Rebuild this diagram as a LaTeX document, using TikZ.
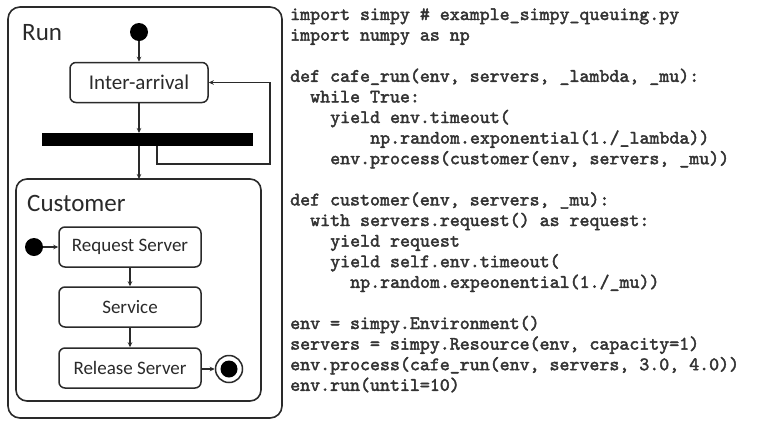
\documentclass[tikz,border=0pt]{standalone}
\usepackage{fontspec}
\setmainfont{Carlito}
\newfontfamily\codefont{lmmono10-regular.otf}[FakeBold=2.2]
\usetikzlibrary{arrows.meta}
\definecolor{ink}{HTML}{2A2A2A}
\definecolor{codeink}{HTML}{333333}
\tikzset{
  frame/.style={draw=ink, line width=1.6pt, rounded corners=12pt},
  statebox/.style={draw=ink, line width=1.5pt, rounded corners=6pt, fill=white,
    minimum width=138pt, minimum height=40pt, font=\fontsize{19}{22}\selectfont, text=ink, inner sep=0pt},
  title/.style={anchor=base west, font=\fontsize{25}{28}\selectfont, text=ink, inner sep=0pt},
  conn/.style={draw=ink, line width=1.3pt},
  arr/.style={conn, -{Stealth[length=5pt,width=4.5pt]}},
  startdot/.style={circle, fill=black, minimum size=18pt, inner sep=0pt},
  codeline/.style={anchor=base west, inner sep=0pt, text=codeink,
    font=\codefont\fontsize{19}{20}\selectfont},
}
\begin{document}
\begin{tikzpicture}[x=1pt, y=-1pt]
\useasboundingbox (0,0) rectangle (767,424);
\fill[white] (0,0) rectangle (767,424);
% outer Run frame
\draw[frame] (8,7) rectangle (282,418);
\node[title] (run) at (22,40) {Run};
\node[startdot] (s0) at (139,32) {};
\node[statebox, font=\fontsize{21}{24}\selectfont] (ia) at (139,82.5) {Inter-arrival};
\node[fill=black, minimum width=211pt, minimum height=13pt, inner sep=0pt] (bar) at (147.5,139.5) {};
\coordinate (barin) at (139,133);
\coordinate (barout) at (139,146);
\coordinate (loopstart) at (157,146);
\coordinate (loopR) at (270,164);
\draw[arr] (s0) -- (ia.north);
\draw[arr] (ia.south) -- (barin);
\draw[arr] (loopstart) |- (loopR) |- (ia.east);
% Customer frame
\draw[frame, rounded corners=11pt] (16,179) rectangle (261,401);
\coordinate (custtop) at (139,179);
\draw[arr] (barout) -- (custtop);
\node[title] (cust) at (27,211) {Customer};
\node[statebox, minimum width=142pt] (req) at (130,247) {Request Server};
\node[statebox, minimum width=142pt] (svc) at (130,307) {Service};
\node[statebox, minimum width=142pt] (rel) at (130,368) {Release Server};
\node[startdot] (s1) at (34,247) {};
\node[circle, draw=ink, line width=1.5pt, minimum size=27pt, inner sep=0pt] (fin) at (229,369) {};
\fill[black] (fin.center) circle (8.5pt);
\draw[arr] (s1) -- (req.west);
\draw[arr] (req.south) -- (svc.north);
\draw[arr] (svc.south) -- (rel.north);
\draw[arr] (rel.east |- fin.west) -- (fin.west);
% code
\def\cx{290}
\def\cw{10.0}
\node[codeline] (c1) at (\cx,20) {import simpy \# example\_simpy\_queuing.py};
\node[codeline] (c2) at (\cx,40.6) {import numpy as np};
\node[codeline] (c4) at (\cx,81.8) {def cafe\_run(env, servers, \_lambda, \_mu):};
\node[codeline] (c5) at (\cx+2*\cw,102.4) {while True:};
\node[codeline] (c6) at (\cx+4*\cw,123) {yield env.timeout(};
\node[codeline] (c7) at (\cx+8*\cw,143.6) {np.random.exponential(1./\_lambda))};
\node[codeline] (c8) at (\cx+4*\cw,164.2) {env.process(customer(env, servers, \_mu))};
\node[codeline] (c10) at (\cx,205.4) {def customer(env, servers, \_mu):};
\node[codeline] (c11) at (\cx+2*\cw,226) {with servers.request() as request:};
\node[codeline] (c12) at (\cx+4*\cw,246.6) {yield request};
\node[codeline] (c13) at (\cx+4*\cw,267.2) {yield self.env.timeout(};
\node[codeline] (c14) at (\cx+6*\cw,287.8) {np.random.expeonential(1./\_mu))};
\node[codeline] (c16) at (\cx,329) {env = simpy.Environment()};
\node[codeline] (c17) at (\cx,349.6) {servers = simpy.Resource(env, capacity=1)};
\node[codeline] (c18) at (\cx,370.2) {env.process(cafe\_run(env, servers, 3.0, 4.0))};
\node[codeline] (c19) at (\cx,390.8) {env.run(until=10)};
\end{tikzpicture}
\end{document}
